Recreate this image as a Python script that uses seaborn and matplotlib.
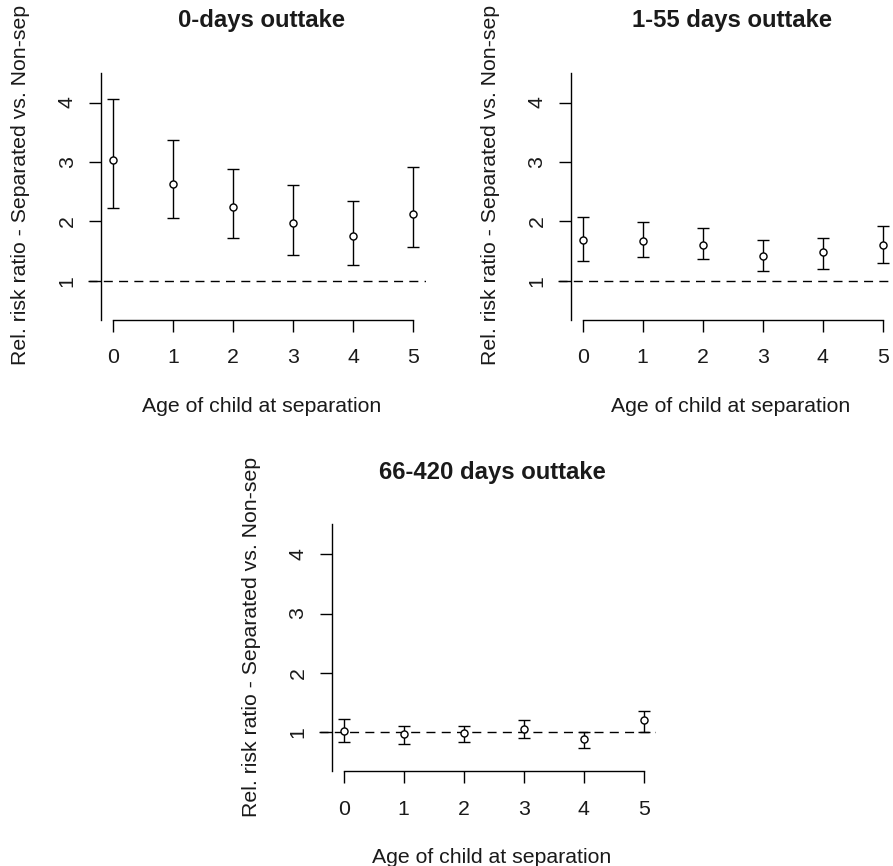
import numpy as np
import matplotlib
matplotlib.use("Agg")
import matplotlib.pyplot as plt
import seaborn as sns

# ----------------------------------------------------------
# Data
# ----------------------------------------------------------
ages = [0, 1, 2, 3, 4, 5]
age_ticks = [0, 1, 2, 3, 4, 5]
rr_ticks = [1, 2, 3, 4]

rr_0days = [3.03, 2.63, 2.24, 1.97, 1.75, 2.13]
lo_0days = [2.22, 2.05, 1.72, 1.43, 1.26, 1.56]
hi_0days = [4.06, 3.37, 2.88, 2.62, 2.35, 2.91]

rr_1_55 = [1.69, 1.67, 1.61, 1.42, 1.48, 1.61]
lo_1_55 = [1.33, 1.40, 1.37, 1.17, 1.20, 1.30]
hi_1_55 = [2.08, 1.99, 1.89, 1.69, 1.72, 1.92]

rr_66_420 = [1.02, 0.97, 0.99, 1.05, 0.88, 1.20]
lo_66_420 = [0.84, 0.80, 0.84, 0.90, 0.74, 1.00]
hi_66_420 = [1.23, 1.10, 1.10, 1.20, 1.00, 1.36]

titles = ["0-days outtake", "1-55 days outtake", "66-420 days outtake"]
ylabel = "Rel. risk ratio - Separated vs. Non-sep"
xlabel = "Age of child at separation"

# ----------------------------------------------------------
# Style
# ----------------------------------------------------------
sns.set_style("ticks")
plt.rcParams["font.family"] = ["Liberation Sans", "DejaVu Sans"]

W, H = 893, 866
fig = plt.figure(figsize=(W / 100, H / 100), dpi=100)

AX_W, AX_H = 337.2, 247.0
positions = [(88.4, 72.6), (558.1, 72.6), (319.1, 524.2)]


def draw_panel(pos, title, rr, lo, hi):
    left, top = pos
    ax = fig.add_axes([left / W, (H - top - AX_H) / H, AX_W / W, AX_H / H])

    rr = np.array(rr)
    yerr = [rr - np.array(lo), np.array(hi) - rr]

    ax.axhline(1, color="black", lw=1.0, ls=(0, (6.5, 4.5)), zorder=1)
    ax.errorbar(ages, rr, yerr=yerr, fmt="none", ecolor="black",
                elinewidth=1.0, capsize=4.3, capthick=1.0, zorder=2)
    sns.scatterplot(x=ages, y=rr, ax=ax, color="white", edgecolor="black",
                    linewidth=1.0, s=26, zorder=3)

    ax.set_xlim(-0.41, 5.21)
    ax.set_ylim(0.346, 4.504)
    ax.set_xticks(age_ticks)
    ax.set_yticks(rr_ticks)

    for side in ["top", "right"]:
        ax.spines[side].set_visible(False)
    ax.spines["left"].set_position(("data", -0.2))
    ax.spines["bottom"].set_bounds(0, 5)
    for side in ["left", "bottom"]:
        ax.spines[side].set_linewidth(1.0)
        ax.spines[side].set_color("black")

    ax.tick_params(axis="both", length=8.5, width=1.0, color="black",
                   labelsize=15.3, labelcolor="#1a1a1a")
    ax.tick_params(axis="x", pad=12)
    ax.tick_params(axis="y", pad=9, labelrotation=90)
    for lab in ax.get_yticklabels():
        lab.set_verticalalignment("center")

    ax.set_ylabel(ylabel, fontsize=15.3, color="#1a1a1a")
    ax.yaxis.set_label_coords((30 - 88.4) / AX_W, 0.545)
    ax.set_xlabel(xlabel, fontsize=15.3, color="#1a1a1a")
    ax.xaxis.set_label_coords(0.513, -0.312)

    ax.set_title(title, fontsize=17.2, fontweight="bold", color="#1a1a1a",
                 x=0.515, y=1.21, va="center", pad=0)
    return ax


draw_panel(positions[0], titles[0], rr_0days, lo_0days, hi_0days)
draw_panel(positions[1], titles[1], rr_1_55, lo_1_55, hi_1_55)
draw_panel(positions[2], titles[2], rr_66_420, lo_66_420, hi_66_420)

fig.savefig("out.png", dpi=100, facecolor="white")
